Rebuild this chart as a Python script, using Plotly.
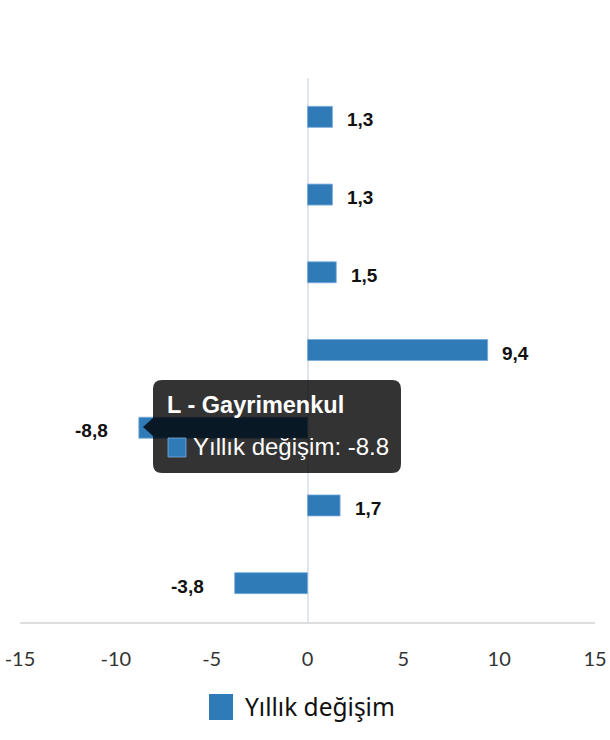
import plotly.graph_objects as go

categories = [
    "H - Ulaştırma ve depolama",
    "I - Konaklama ve yiyecek",
    "J - Bilgi ve iletişim",
    "K - Finans ve sigorta",
    "L - Gayrimenkul",
    "M - Mesleki, bilimsel ve teknik",
    "N - İdari ve destek hizmetleri",
]
values = [1.3, 1.3, 1.5, 9.4, -8.8, 1.7, -3.8]
series_name = "Yıllık değişim"
tick_vals = [-15, -10, -5, 0, 5, 10, 15]
tick_text = ["-15", "-10", "-5", "0", "5", "10", "15"]
hover_index = 4

BAR = "#2f7bb8"
W, H = 610, 740
ML, MR, MT, MB = 20, 15, 78, 118
PW, PH = W - ML - MR, H - MT - MB


def px(x, y):
    return (x - ML) / PW, (H - MB - y) / PH


fig = go.Figure()
fig.add_trace(go.Bar(
    y=categories, x=values, orientation="h", name=series_name,
    marker=dict(color=BAR, line=dict(color="rgba(120,170,220,0.8)", width=1)),
    width=0.27, showlegend=False, hoverinfo="none",
))

annotations = []
for c, v in zip(categories, values):
    annotations.append(dict(
        x=v, y=c, xref="x", yref="y",
        text="<b>" + f"{v:.1f}".replace(".", ",") + "</b>", showarrow=False,
        xanchor="center", yanchor="middle",
        xshift=28 if v >= 0 else -47, yshift=-3,
        font=dict(family="Liberation Sans", size=19, color="#111111"),
    ))

# tooltip
shapes = []
x0, x1, y0, y1, r = 153, 401, 380, 473, 9
cy = 427


def P(x, y):
    a, b = px(x, y)
    return f"{a:.5f},{b:.5f}"


path = (f"M {P(x0 + r, y0)} L {P(x1 - r, y0)} Q {P(x1, y0)} {P(x1, y0 + r)} "
        f"L {P(x1, y1 - r)} Q {P(x1, y1)} {P(x1 - r, y1)} L {P(x0 + r, y1)} "
        f"Q {P(x0, y1)} {P(x0, y1 - r)} L {P(x0, cy + 9)} L {P(x0 - 10, cy)} "
        f"L {P(x0, cy - 9)} L {P(x0, y0 + r)} Q {P(x0, y0)} {P(x0 + r, y0)} Z")
shapes.append(dict(type="path", path=path, xref="paper", yref="paper",
                   fillcolor="rgba(0,0,0,0.8)", line=dict(width=0), layer="above"))
sx0, sy0 = px(168, 457)
sx1, sy1 = px(186, 438)
shapes.append(dict(type="rect", xref="paper", yref="paper", x0=sx0, x1=sx1, y0=sy0, y1=sy1,
                   fillcolor=BAR, line=dict(color="rgba(120,170,220,0.8)", width=1), layer="above"))
tx, ty = px(165, 405)
annotations.append(dict(x=tx, y=ty, xref="paper", yref="paper", text=f"<b>{categories[hover_index]}</b>",
                        showarrow=False, xanchor="left", yanchor="middle",
                        font=dict(family="Liberation Sans", size=23.5, color="white")))
tx, ty = px(191, 447)
annotations.append(dict(x=tx, y=ty, xref="paper", yref="paper",
                        text=f"{series_name}: {values[hover_index]}",
                        showarrow=False, xanchor="left", yanchor="middle",
                        font=dict(family="Liberation Sans", size=24, color="white")))

# legend
lx0, ly0 = px(209, 720)
lx1, ly1 = px(233, 694)
shapes.append(dict(type="rect", xref="paper", yref="paper", x0=lx0, x1=lx1, y0=ly0, y1=ly1,
                   fillcolor=BAR, line=dict(width=0)))
tx, ty = px(243, 706)
annotations.append(dict(x=tx, y=ty, xref="paper", yref="paper", text=series_name,
                        showarrow=False, xanchor="left", yanchor="middle",
                        font=dict(family="Noto Sans", size=24.5, color="#111111")))

fig.update_layout(
    width=W, height=H, margin=dict(l=ML, r=MR, t=MT, b=MB),
    paper_bgcolor="white", plot_bgcolor="white",
    showlegend=False, annotations=annotations, shapes=shapes,
    xaxis=dict(range=[-15, 15], tickvals=tick_vals, ticktext=tick_text,
               showgrid=False, zeroline=True, zerolinecolor="#e1e6ee", zerolinewidth=1.5,
               showline=True, linecolor="#dddddd", linewidth=1.5,
               ticks="", ticklabelstandoff=18, automargin=False,
               tickfont=dict(family="Lato", size=20, color="#333333")),
    yaxis=dict(autorange="reversed", showticklabels=False, showgrid=False,
               zeroline=False, showline=False, ticks="", automargin=False),
)
fig.write_html("out.html", config={"displayModeBar": False},
               post_script="document.body.style.margin='0';document.body.style.overflow='hidden';")
